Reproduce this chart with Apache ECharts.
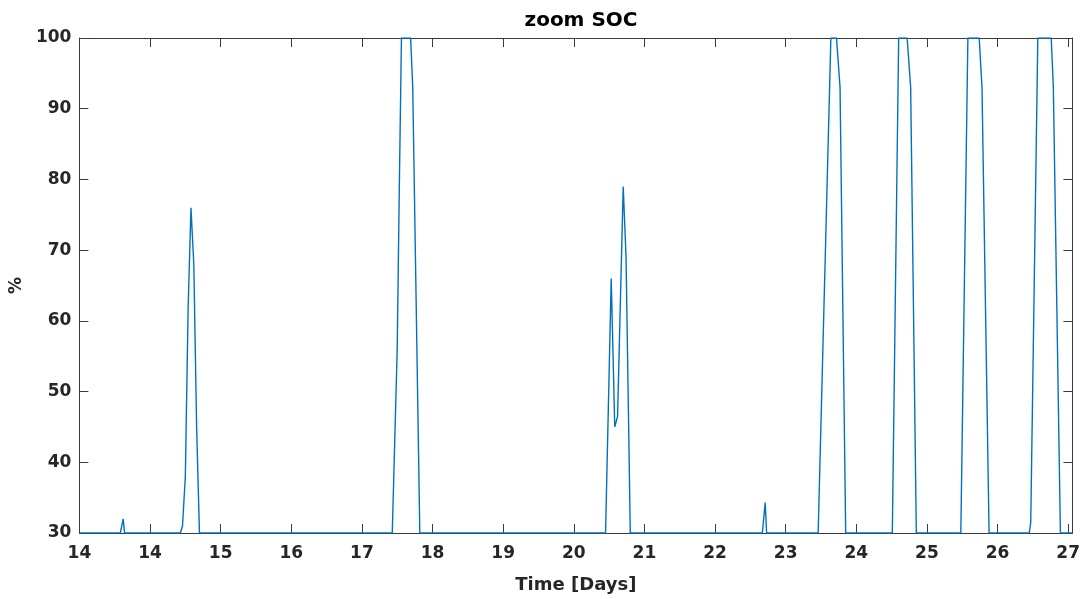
<!DOCTYPE html>
<html>
<head>
<meta charset="utf-8">
<script src="https://cdn.jsdelivr.net/npm/echarts@6/dist/echarts.min.js"></script>
<style>
html,body{margin:0;padding:0;background:#fff;}
#chart{width:1083px;height:599px;}
</style>
</head>
<body>
<div id="chart"></div>
<script>
// Time in days
const timeDays = [
  13.00, 13.58, 13.62, 13.64,
  14.43, 14.46, 14.50, 14.54, 14.58, 14.62, 14.66, 14.70,
  17.43, 17.50, 17.53, 17.56, 17.69, 17.72, 17.82,
  20.45, 20.53, 20.58, 20.62, 20.70, 20.74, 20.80,
  22.67, 22.71, 22.73,
  23.46, 23.64, 23.72, 23.77, 23.85,
  24.51, 24.60, 24.72, 24.77, 24.85,
  25.48, 25.58, 25.74, 25.78, 25.88,
  26.45, 26.47, 26.57, 26.76, 26.79, 26.89,
  27.06
];
// State of charge in %
const socPercent = [
  30, 30, 32, 30,
  30, 31, 38, 62, 76, 68, 45, 30,
  30, 56, 79, 100, 100, 93, 30,
  30, 66, 45, 46.5, 79, 69, 30,
  30, 34.3, 30,
  30, 100, 100, 93, 30,
  30, 100, 100, 93, 30,
  30, 100, 100, 93, 30,
  30, 31.5, 100, 100, 93, 30,
  30
];
// x tick values and their labels (as shown in the original)
const xTickValues = [13, 14, 15, 16, 17, 18, 19, 20, 21, 22, 23, 24, 25, 26, 27];
const xTickLabels = ['14', '14', '15', '16', '17', '18', '19', '20', '21', '22', '23', '24', '25', '26', '27'];
const yTickValues = [30, 40, 50, 60, 70, 80, 90, 100];

const chartTitle = 'zoom SOC';
const xAxisName = 'Time [Days]';
const yAxisName = '%';

const data = timeDays.map((t, i) => [t, socPercent[i]]);

const axisColor = '#3a3a3a';
const fontFam = '"DejaVu Sans", sans-serif';

const chart = echarts.init(document.getElementById('chart'), null, {renderer: 'canvas'});

function xLabel(v) {
  const idx = xTickValues.findIndex(x => Math.abs(x - v) < 1e-6);
  return idx >= 0 ? xTickLabels[idx] : '';
}

const commonX = {
  type: 'value', min: 13, max: 27.06, interval: 1,
  splitLine: {show: false},
  axisLine: {show: true, onZero: false, lineStyle: {color: axisColor, width: 1}},
  axisTick: {show: true, inside: true, length: 9, lineStyle: {color: axisColor, width: 1}}
};
const commonY = {
  type: 'value', min: 30, max: 100, interval: 10,
  splitLine: {show: false},
  axisLine: {show: true, onZero: false, lineStyle: {color: axisColor, width: 1}},
  axisTick: {show: true, inside: true, length: 9, lineStyle: {color: axisColor, width: 1}}
};

chart.setOption({
  animation: false,
  backgroundColor: '#ffffff',
  title: {
    text: chartTitle,
    left: 576, top: 6, textAlign: 'center',
    textStyle: {fontFamily: fontFam, fontWeight: 'bold', fontSize: 20, color: '#000'}
  },
  grid: {left: 79, right: 9, top: 38, bottom: 62, containLabel: false},
  xAxis: [
    Object.assign({}, commonX, {
      position: 'bottom',
      name: xAxisName, nameLocation: 'middle', nameGap: 43,
      nameTextStyle: {fontFamily: fontFam, fontWeight: 'bold', fontSize: 18, color: '#262626'},
      axisLabel: {
        show: true, margin: 12, showMaxLabel: false,
        fontFamily: fontFam, fontWeight: 'bold', fontSize: 17, color: '#262626',
        formatter: xLabel
      }
    }),
    Object.assign({}, commonX, {
      position: 'top',
      axisLabel: {show: false}
    })
  ],
  yAxis: [
    Object.assign({}, commonY, {
      position: 'left',
      name: yAxisName, nameLocation: 'middle', nameGap: 52, nameRotate: 90,
      nameTextStyle: {fontFamily: fontFam, fontWeight: 'bold', fontSize: 17, color: '#262626'},
      axisLabel: {
        show: true, margin: 8,
        fontFamily: fontFam, fontWeight: 'bold', fontSize: 17, color: '#262626'
      }
    }),
    Object.assign({}, commonY, {
      position: 'right',
      axisLabel: {show: false}
    })
  ],
  series: [{
    type: 'line',
    data: data,
    xAxisIndex: 0, yAxisIndex: 0,
    showSymbol: false,
    symbol: 'none',
    smooth: false,
    clip: true,
    lineStyle: {color: '#0072BD', width: 1.4}
  }]
});
</script>
</body>
</html>
